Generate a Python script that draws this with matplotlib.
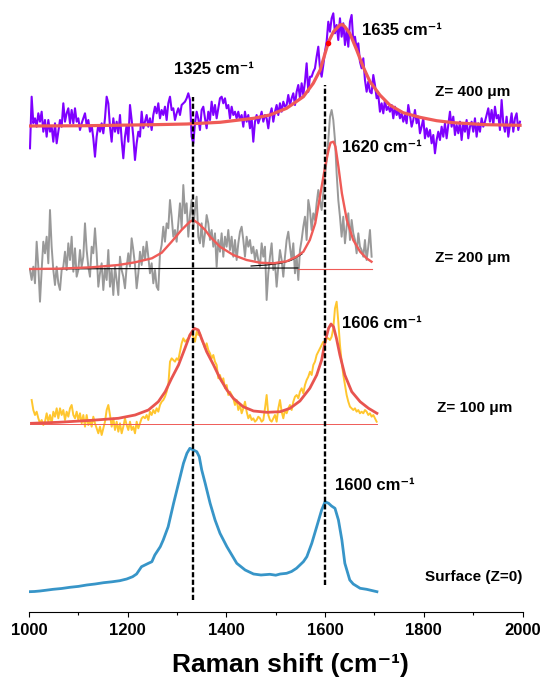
import matplotlib
matplotlib.use('Agg')
import matplotlib.pyplot as plt
from matplotlib.ticker import MultipleLocator
import numpy as np

plt.rcParams['font.family'] = ['Liberation Sans', 'DejaVu Sans']
plt.rcParams['font.weight'] = 'bold'

# wavenumber sampling of the noisy spectra (cm-1)
step = 3.377
purple_start = 1002.0
grey_start = 1002.0
yellow_start = 1005.4

# Z = 400 um (intensity, a.u.)
purple_i = [
    -22.3, 29.3, 2.7, 7.7, -0.7, 12.7, 4.3, 14.3, -5.7, 6, -10.7, 6, -5.7, -0.7, -15.7, 2.7, -17.3, -5.7, 6, -0.7,
    22.7, 4.3, 12.7, 17.7, 2.7, 16, 2.7, 17.7, 4.3, 7.7, -4, 2.7, 7.7, 12.7, 1, 6, -5.7, 1, -12.3, -30.7,
    -10.7, 1, -5.7, 2.7, -7.3, 7.7, 29.3, 22.7, -0.7, -15.7, 7.7, -5.7, 4.3, -7.3, 11, -14, -32.3, -10.7, 1, -15.7,
    21, 6, -10.7, -34, -17.3, -5.7, -10.7, 14.3, -2.3, 4.3, 11, -0.7, 7.7, -4, 11, 19.3, 12.7, 22.7, 7.7, 16,
    11, 19.3, 6, 22.7, 29.3, 16, 17.7, 6, 12.7, 17.7, 11, 21, 22.7, 24.3, 27.7, 32.7, 26, -10.7, -17.3, 2.7,
    14.3, 7.3, -4, 16, 19.3,
    7.7, -2.3, 14.3, 6, 24.3, 11, 21, 7.7, 17.7, 27.7, 29.3, 22.7, 27.7, 17.7, 21, 7.7, 19.3, 11, 14.3, 7.7,
    14.3, 6, 11, -0.7, 14.3, 4.3, 11, -2.3, 7.7, -15.7, 4.3, 11, 2.7, 7.7, 14.3, 4.3, 11, 7.7, -2.3, 11,
    17.7, 4.3, 14.3, 21, 11, 22.7, 14.3, 24.3, 19.3, 21, 31, 21, 27.7, 32.7, 21, 34.3, 41, 27.7, 42.7, 31,
    44.3, 62.7, 34.3, 49.3, 49.3, 54.3, 57.7, 69.3, 79.3, 57.7, 49.3, 61, 74.3, 84.3, 104.3, 94.3, 107.7, 112.7, 92.7, 101,
    86, 107.7, 89.3, 102.7, 81, 96, 79.3, 104.3, 111, 84.3, 89.3, 77.7, 82.7, 64.3, 57.7, 67.7, 46, 34.3, 44.3, 34.3,
    32.7, 51, 41, 27.7, 31, 14.3,
    22.7, 12.7, 26, 16, 19.3, 14.3, 21, 7.7, 19.3, 11, 16, 7.7, 12.7, 4.3, 11, 2.7, 21, 11, -0.7, 6,
    16, 2.7, 9.3, -7.3, -0.7, 7.7, -12.3, -2.3, -10.7, -4, -17.3, -9, -27.3, -14, -5.7, -14, -0.7, -10.7, 2.7, -12.3,
    1, 14.3, -0.7, 9.3, -9, 1, -7.3, 4.3, -14, 2.7, -5.7, 6, -12.3, -0.7, 4.3, -5.7, 7.7, -10.7, 2.7, -5.7,
    7.7, -0.7, 4.3, 11, 17.7, 4.3, 16, 1, 19.3, 7.7, 11, -4, 26, 2.7, -5.7, 9.3, -10.7, 1, 12.7, -5.7,
    7.7, 12.7, -4, 4.3,
]
purple_fit_x = [1002, 1117, 1252, 1320, 1387, 1455, 1488, 1522, 1556, 1576, 1590, 1600, 1607, 1617, 1630,
                1635, 1640, 1650, 1664, 1677, 1691, 1711, 1731, 1758, 1792, 1826, 1860, 1927, 1995]
purple_fit_i = [0, 0.3, 1.3, 2, 3.7, 7.7, 11, 17.7, 29.3, 42.7, 56, 72.7, 84.3, 94.3, 101,
                101.5, 99.3, 92.7, 76, 59.3, 44.3, 31, 21, 13.3, 8.7, 5.3, 3.3, 1.3, 0.7]

# Z = 200 um
grey_i = [
    -1, -11, 2.3, -14.3, 27.3, 2.3, -32.7, -1, 27.3, 15.7, 32.3, 5.7, 59, 22.3, -1, -16, 2.3, -14.3, -21, -1,
    2.3, 17.3, -1, 25.7, 9, 32.3, -2.7, 20.7, -7.7, -1, 19, 2.3, 12.3, 45.7, 19, 2.3, -7.7, 22.3, 15.7, 40.7,
    15.7, -17.7, -4.3, 5.7, -21, 0.7, -11, 19, -17.7, -1, -26, 2.3, -11, -26, 12.3, -1, -7.7, -19.3, 2.3, 15.7,
    2.3, 30.7, 19, 4, -19.3, -4.3, 17.3, 4, 22.3, 9, 27.3, 12.3, -4.3, 5.7, -14.3, -1, -17.7, -21, 15.7, 24,
    42.3, 27.3, 45.7, 40.7, 69, 52.3, 32.3, 39, 27.3, 45.7, 65.7, 40.7, 84, 55.7, 65.7, 32.3, 54, 69, 40.7, 59,
    72.3, 32.3, 25.7, 45.7, 22.3,
    35.7, 54, 45.7, 29, 39, 22.3, 35.7, 2.3, 29, 17.3, 35.7, 12.3, 32.3, 22.3, 39, 19, 32.3, 12.3, 29, 9,
    25.7, 37.3, 42.3, 29, 12.3, 32.3, 22.3, 29, 15.7, 22.3, 9, 19, 9, 2.3, 25.7, 12.3, 22.3, -31, -4.3, 12.3,
    25.7, -1, 5.7, -17.7, 2.3, 19, 9, -7.7, 12.3, 29, 37.3, 22.3, 9, 25.7, -4.3, 12.3, -11, 19, 29, 42.3,
    52.3, 29, 69, 59, 39, 55.7, 49, 65.7, 79, 69, 59, 75.7, 92.3, 109, 129, 152.3, 159, 149, 129, 95.7,
    69, 52.3, 32.3, 52.3, 25.7, 42.3, 55.7, 29, 49, 35.7, 29, 15.7, 35.7, 22.3, 19, 12.3, 29, 9, 22.3, 39,
    12.3,
]
grey_fit_x = [1002, 1059, 1127, 1181, 1215, 1249, 1269, 1289, 1309, 1326, 1333, 1343, 1357, 1367, 1387, 1414,
              1441, 1468, 1495, 1522, 1542, 1556, 1569, 1580, 1586, 1593, 1600, 1607, 1611, 1617, 1621, 1627,
              1634, 1644, 1657, 1671, 1684, 1694]
grey_fit_i = [0, 0.3, 1.7, 4, 6.7, 10.7, 16.3, 27.3, 39, 47.3, 49, 45.7, 39, 32.3, 22.3, 14,
              9, 6.3, 5.7, 7.7, 12.3, 17.3, 29, 45.7, 62.3, 82.3, 102.3, 119, 126.3, 127.3, 122.3, 102.3,
              75.7, 49, 29, 17.3, 10.7, 7.3]
grey_base_x = [1002, 1545]
grey_base_i = [0, 1]
grey_comp_x = [1450, 1482, 1509, 1529, 1542, 1553]
grey_comp_i = [3, 4, 5.7, 8.3, 11.7, 15]
grey_base2_x = [1545, 1695]
grey_base2_i = [0.5, 0.5]

# Z = 100 um
yellow_i = [
    24, 14, 9, 12.3, 5.7, 0.7, 4, -1, 2.3, 10.7, 2.3, 9, 0.7, 12.3, 7.3, 15.7, 5.7, 15.7, 9, 14,
    4, 12.3, 7.3, 15.7, 19, 9, 5.7, 12.3, 4, 10.7, 0.7, 9, -2.7, 9, -1, 4, -2.7, 7.3, 0.7, -4.3,
    -9.3, -2.7, -11, -4.3, 2.3, 14, 19, 9, -2.7, 5.7, -6, 2.3, -7.7, 0.7, -9.3, -2.7, 5.7, -1, -6, 2.3,
    -6, -2.7, -9.3, 2.3, -4.3, 0.7, 5.7, 7.3, 5.7, 9, 4, 12.3, 9, 14, 10.7, 15.7, 12.3, 19, 22.3, 24,
    27.3, 32.3, 39, 62.3, 65.7, 64, 62.3, 65.7, 64, 72.3, 80.7, 85.7, 82.3, 84, 85.7, 89, 90.7, 87.3, 82.3, 92.3,
    89, 90.7, 84, 80.7,
    75.7, 80.7, 74, 70.7, 65.7, 69, 62.3, 59, 45.7, 49, 42.3, 45.7, 35.7, 39, 29, 32.3, 29, 25.7, 19, 24,
    14, 19, 10.7, 15.7, 22.3, 12.3, 5.7, 9, 4, 5.7, 2.3, 4, 7.3, 5.7, 2.3, 4, 15.7, 29, 9, 4,
    2.3, 5.7, 9, 2.3, 15.7, 24, 12.3, 5.7, 14, 10.7, 15.7, 19, 14, 22.3, 27.3, 29, 25.7, 32.3, 35.7, 30.7,
    39, 44, 47.3, 52.3, 49, 59, 62.3, 69, 72.3, 75.7, 79, 82.3, 80.7, 85.7, 85.7, 84, 87.3, 95.7, 115.7, 122.3,
    102.3, 79, 62.3, 49, 39, 29, 22.3, 17.3, 15.7, 14, 15.7, 12.3, 14, 10.7, 12.3, 10.7, 14, 12.3, 9, 10.7,
    7.3, 9, 5.7, 2.3,
]
yellow_fit_x = [1005, 1059, 1127, 1181, 1215, 1242, 1262, 1276, 1289, 1303, 1316, 1326, 1335, 1343, 1360,
                1374, 1387, 1401, 1414, 1434, 1455, 1482, 1509, 1529, 1549, 1569, 1583, 1593, 1600, 1607,
                1612, 1617, 1623, 1630, 1640, 1654, 1671, 1688, 1705]
yellow_fit_i = [0.7, 1.7, 3.7, 5.7, 9, 14, 22.3, 32.3, 45.7, 59, 75.7, 89, 95.7, 94, 72.3,
                59, 45.7, 34, 25.7, 17.3, 13, 11.7, 12.3, 15.7, 23, 35.7, 49, 64, 82.3, 95.7,
                100, 97.3, 85.7, 69, 49, 32.3, 22.3, 15.7, 10.7]
yellow_base_x = [1002, 1705]
yellow_base_i = [0, 0]

# Surface (Z = 0)
blue_x = [1000, 1011, 1022, 1035, 1049, 1066, 1083, 1100, 1117, 1134, 1151, 1168, 1184, 1198, 1210, 1218,
          1228, 1242, 1249, 1255, 1266, 1272, 1282, 1293, 1303, 1313, 1320, 1326, 1333, 1340, 1345, 1350,
          1357, 1367, 1377, 1387, 1401, 1421, 1438, 1455, 1470, 1488, 1500, 1509, 1522, 1532, 1542, 1556,
          1563, 1573, 1583, 1593, 1600, 1607, 1613, 1620, 1627, 1634, 1640, 1650, 1657, 1671, 1684, 1705]
blue_i = [0.3, 0.5, 1, 1.8, 2.7, 3.5, 4.7, 5.6, 7, 8, 9.3, 10.2, 11.3, 13, 15.3, 18,
          25.3, 28.7, 30.3, 37, 45.3, 52, 65.3, 88.7, 108.7, 128.7, 138.7, 143.7, 142, 140.3, 135.3, 122,
          108.7, 88.7, 72, 58.7, 45.3, 28.7, 22, 18, 17, 17.7, 16.8, 18, 18.7, 20.5, 23.7, 30.3,
          35.3, 48.7, 65.3, 82, 90.3, 88.7, 86, 83.7, 72, 52, 28.7, 12, 8, 3.7, 2.7, 0.3]

# vertical stacking offsets
off_400 = 486
off_200 = 343
off_100 = 188
off_0 = 20

peak_lines = [1332, 1600]

purple_x = purple_start + step * np.arange(len(purple_i))
grey_x = grey_start + step * np.arange(len(grey_i))
yellow_x = yellow_start + step * np.arange(len(yellow_i))

red = '#ef5b57'

fig = plt.figure(figsize=(5.46, 6.86), dpi=100)
ax = fig.add_axes([29 / 546, 74 / 686, 493.5 / 546, 612 / 686])
ax.set_xlim(1000, 2000)
ax.set_ylim(0, 612)

# Z = 400
ax.plot(purple_x, np.array(purple_i) + off_400, color='#7f00ff', lw=1.5, zorder=2)
ax.plot(purple_fit_x, np.array(purple_fit_i) + off_400, color=red, lw=2.3, zorder=3)
ax.plot([1606], [83 + off_400], 'o', color='#ff0000', ms=3, zorder=4)

# Z = 200
ax.plot(grey_x, np.array(grey_i) + off_200, color='#999999', lw=1.4, zorder=2)
ax.plot(grey_base_x, np.array(grey_base_i) + off_200, color='black', lw=0.8, zorder=3)
ax.plot(grey_comp_x, np.array(grey_comp_i) + off_200, color='black', lw=0.8, zorder=3)
ax.plot(grey_base2_x, np.array(grey_base2_i) + off_200, color=red, lw=0.8, zorder=3)
ax.plot(grey_fit_x, np.array(grey_fit_i) + off_200, color=red, lw=1.7, zorder=3)

# Z = 100
ax.plot(yellow_x, np.array(yellow_i) + off_100, color='#ffc62e', lw=1.4, zorder=2)
ax.plot(yellow_base_x, np.array(yellow_base_i) + off_100, color=red, lw=0.7, zorder=3)
ax.plot(yellow_fit_x, np.array(yellow_fit_i) + off_100, color='#e8544f', lw=2.0, zorder=3)

# surface
ax.plot(blue_x, np.array(blue_i) + off_0, color='#3795c8', lw=2.0, zorder=2)

# dashed peak markers
ax.vlines(peak_lines[0], 12, 515, colors='black', linestyles=(0, (2.2, 1.0)), lw=1.7, zorder=5)
ax.vlines(peak_lines[1], 27, 527, colors='black', linestyles=(0, (2.2, 1.0)), lw=1.7, zorder=5)

# labels
lab = dict(fontsize=12, fontweight='bold', va='baseline', ha='left')
ax.text(1294, 538, '1325 cm⁻¹', **lab)
ax.text(1674, 577, '1635 cm⁻¹', **lab)
ax.text(1634, 460, '1620 cm⁻¹', **lab)
ax.text(1634, 284, '1606 cm⁻¹', **lab)
ax.text(1620, 122, '1600 cm⁻¹', **lab)

zl = dict(fontsize=11, fontweight='bold', va='baseline', ha='left')
ax.text(1823, 516, 'Z= 400 μm', **zl)
ax.text(1823, 350, 'Z= 200 μm', **zl)
ax.text(1826, 200, 'Z= 100 μm', **zl)
ax.text(1802, 31, 'Surface (Z=0)', **zl)

for s in ['left', 'top', 'right']:
    ax.spines[s].set_visible(False)
ax.spines['bottom'].set_linewidth(0.8)
ax.set_yticks([])
ax.xaxis.set_major_locator(MultipleLocator(200))
ax.xaxis.set_minor_locator(MultipleLocator(100))
ax.tick_params(axis='x', which='major', length=3.6, width=0.8, labelsize=12, pad=4)
ax.tick_params(axis='x', which='minor', length=2, width=0.8)
ax.patch.set_visible(False)

fig.text(290.5 / 546, (686 - 671.7) / 686, 'Raman shift (cm⁻¹)', ha='center', va='baseline',
         fontsize=19, fontweight='bold')

fig.savefig('out.png', dpi=100)
plt.close()
